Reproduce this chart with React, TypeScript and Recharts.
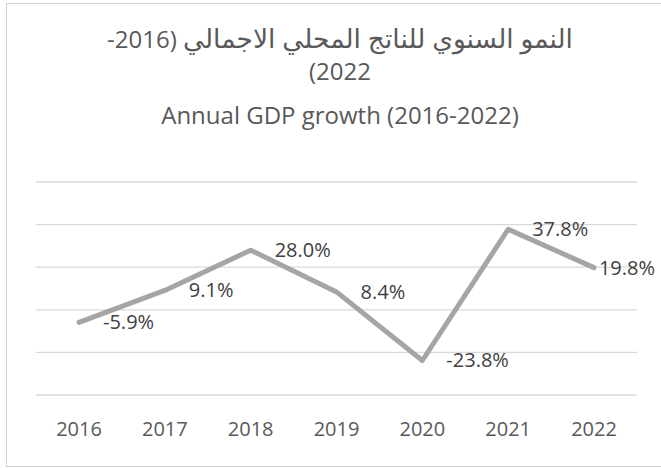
import React from 'react';
import { LineChart, Line, XAxis, YAxis, CartesianGrid, LabelList } from 'recharts';

const years = ['2016', '2017', '2018', '2019', '2020', '2021', '2022'];
const growth = [-5.9, 9.1, 28.0, 8.4, -23.8, 37.8, 19.8];
const yTicks = [-40, -20, 0, 20, 40, 60];

const titleArWords = 'النمو السنوي للناتج المحلي الاجمالي';
const titleArYears1 = ' (2016-';
const titleArYears2 = '2022)';
const titleEn = 'Annual GDP growth (2016-2022)';

const chartData = years.map((year, i) => ({ year, growth: growth[i] }));

const FONT = "'Open Sans', 'DejaVu Sans', sans-serif";

const renderLabel = (props: any) => {
  const { x, y, value } = props;
  const text = `${Number(value).toFixed(1)}%`;
  const w = text.length * 10.8;
  let tx = x + 24;
  let anchor: 'start' | 'end' = 'start';
  // keep the label inside the chart frame, like Excel does
  if (tx + w > 656) {
    tx = 655;
    anchor = 'end';
  }
  return (
    <text x={tx} y={y} dy="0.35em" textAnchor={anchor} fill="#404040" fontSize={20} fontFamily={FONT}>
      {text}
    </text>
  );
};

export default function App() {
  return (
    <div style={{ position: 'fixed', left: 0, top: 0, width: 661, height: 468, background: '#fff', fontFamily: FONT }}>
      <div
        style={{
          position: 'absolute',
          left: 6,
          top: 3,
          width: 660,
          height: 462,
          border: '1.5px solid #d0d0d0',
        }}
      />
      <div
        dir="rtl"
        style={{ position: 'absolute', left: 0, top: 22, width: 680, textAlign: 'center', fontSize: 24, lineHeight: '32px', color: '#595959' }}
      >
        <span style={{ fontSize: 26.5 }}>{titleArWords}</span>
        {titleArYears1}
        <br />
        {titleArYears2}
      </div>
      <div style={{ position: 'absolute', left: 0, top: 99, width: 680, textAlign: 'center', fontSize: 24, lineHeight: '32px', color: '#595959' }}>
        {titleEn}
      </div>
      <div style={{ position: 'absolute', left: 0, top: 0 }}>
        <LineChart width={661} height={468} data={chartData} margin={{ top: 182, right: 24, bottom: 43, left: 36 }}>
          <CartesianGrid vertical={false} stroke="#d9d9d9" strokeWidth={1.3} />
          <XAxis
            dataKey="year"
            axisLine={false}
            tickLine={false}
            tickSize={0}
            tickMargin={27}
            padding={{ left: 43, right: 43 }}
            tick={{ fill: '#595959', fontSize: 20, fontFamily: FONT }}
          />
          <YAxis hide domain={[-40, 60]} ticks={yTicks} />
          <Line
            type="linear"
            dataKey="growth"
            stroke="#a5a5a5"
            strokeWidth={5}
            strokeLinecap="round"
            strokeLinejoin="round"
            dot={false}
            isAnimationActive={false}
          >
            <LabelList dataKey="growth" content={renderLabel} />
          </Line>
        </LineChart>
      </div>
    </div>
  );
}
